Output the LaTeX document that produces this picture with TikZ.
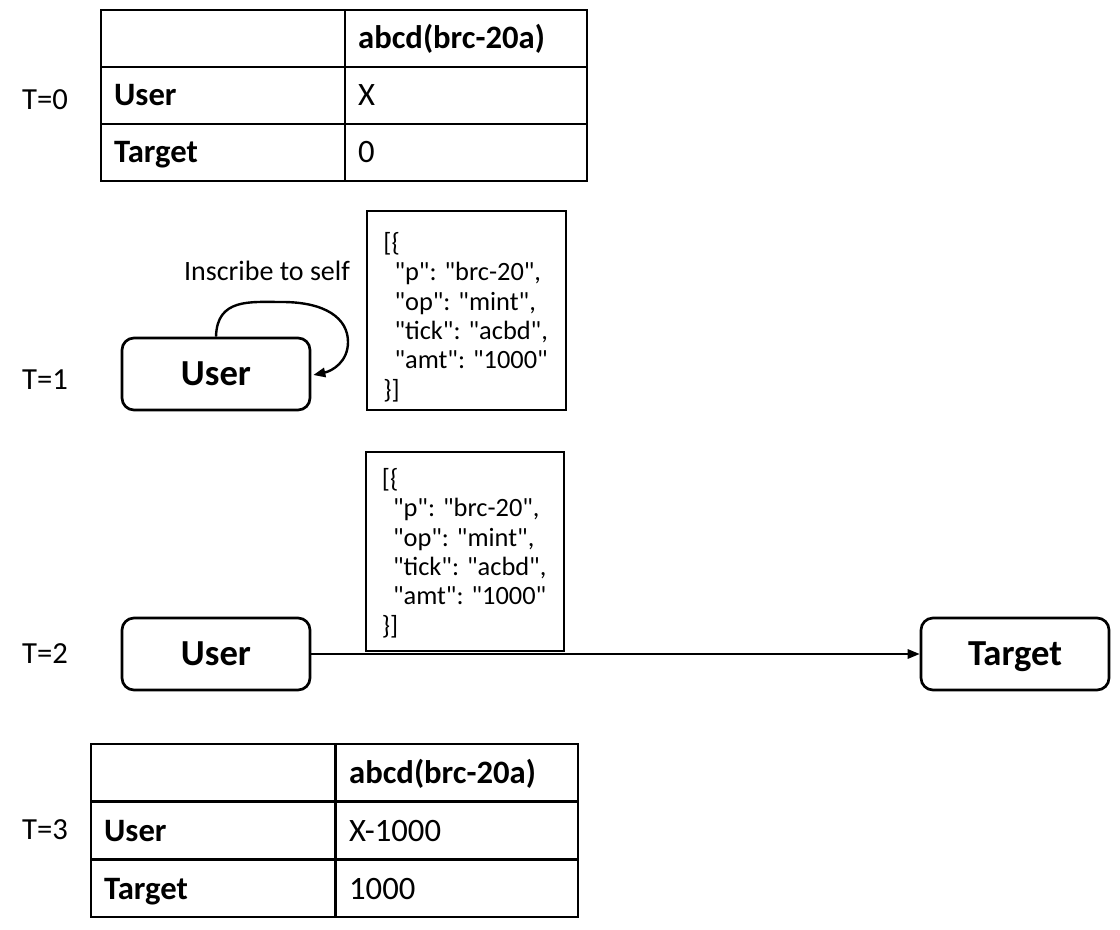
\documentclass[tikz,border=0pt]{standalone}
\usepackage{fontspec}
\setmainfont{Carlito}
\newfontfamily\jsonfont{Carlito}[Ligatures=TeXOff]
\usetikzlibrary{arrows.meta,calc}
\begin{document}
\begin{tikzpicture}[x=0.75pt,y=-0.75pt,
  cellA/.style={draw, line width=1.2pt, anchor=north west, inner xsep=10pt, inner ysep=0pt,
    text width=163pt, minimum height=43pt, align=left, text height=15.8pt, text depth=0pt,
    font=\fontsize{24.5}{28}\selectfont},
  cellB/.style={cellA, text width=161.5pt},
  hd/.style={font=\fontsize{24.5}{28}\selectfont\bfseries},
  tlabel/.style={inner sep=0pt, font=\fontsize{23}{27}\selectfont},
  actor/.style={draw, line width=2pt, rounded corners=9pt, minimum width=141pt,
    minimum height=54pt, inner sep=0pt, text height=17.7pt, text depth=0pt,
    font=\fontsize{27.5}{32}\selectfont\bfseries},
  jsonbox/.style={draw, line width=1.5pt, minimum width=149pt, minimum height=149pt, inner sep=0pt},
  jsontxt/.style={anchor=north west, align=left, inner sep=0pt, font=\jsonfont\fontsize{19.8}{22}\selectfont},
  arr/.style={line width=1.5pt, -{Triangle[length=9pt,width=7pt]}}
]
\useasboundingbox (0,0) rectangle (1120,930);

% T=0 balance table
\node[tlabel] (lt0) at (45,100) {T=0};
\node[cellA] (a00) at (100,9) {};
\node[cellB, hd] (a01) at (344,9) {abcd(brc-20a)};
\node[cellA, hd] (a10) at (100,66) {User};
\node[cellB] (a11) at (344,66) {X};
\node[cellA, hd] (a20) at (100,123) {Target};
\node[cellB] (a21) at (344,123) {0};

% T=1 mint inscribed to self
\node[tlabel] (lt1) at (45,380) {T=1};
\node[actor] (u1) at (216,374) {User};
\node[font=\fontsize{21}{25}\selectfont, inner sep=0pt] (ins) at (267,271) {Inscribe to self};
\draw[arr, line width=1.8pt] (u1.north) .. controls (217,298) and (250,302) .. (282,302)
  .. controls (325,302) and (348,318) .. (348,342)
  .. controls (348,362) and (332,371) .. ($(u1.east)+(2,1)$);
\node[jsonbox] (j1) at (466.5,310.5) {};
\node[jsontxt] (j1t) at ($(j1.north west)+(17,22)$)
  {[\{\\\hspace{0.42em}"p": "brc-20",\\\hspace{0.42em}"op": "mint",\\\hspace{0.42em}"tick": "acbd",\\\hspace{0.42em}"amt": "1000"\\\}]};

% T=2 transfer to target
\node[tlabel] (lt2) at (45,654) {T=2};
\node[actor] (u2) at (216,654) {User};
\node[actor] (tg) at (1015,654) {Target};
\node[jsonbox] (j2) at (465,551.5) {};
\node[jsontxt] (j2t) at ($(j2.north west)+(17,17)$)
  {[\{\\\hspace{0.42em}"p": "brc-20",\\\hspace{0.42em}"op": "mint",\\\hspace{0.42em}"tick": "acbd",\\\hspace{0.42em}"amt": "1000"\\\}]};
\draw[arr] (u2.east) -- (tg.west);

% T=3 balance table
\node[tlabel] (lt3) at (45,830) {T=3};
\node[cellA] (b00) at (90,743) {};
\node[cellB, hd] (b01) at (335,743) {abcd(brc-20a)};
\node[cellA, hd] (b10) at (90,801) {User};
\node[cellB] (b11) at (335,801) {X-1000};
\node[cellA, hd] (b20) at (90,859) {Target};
\node[cellB] (b21) at (335,859) {1000};
\end{tikzpicture}
\end{document}
